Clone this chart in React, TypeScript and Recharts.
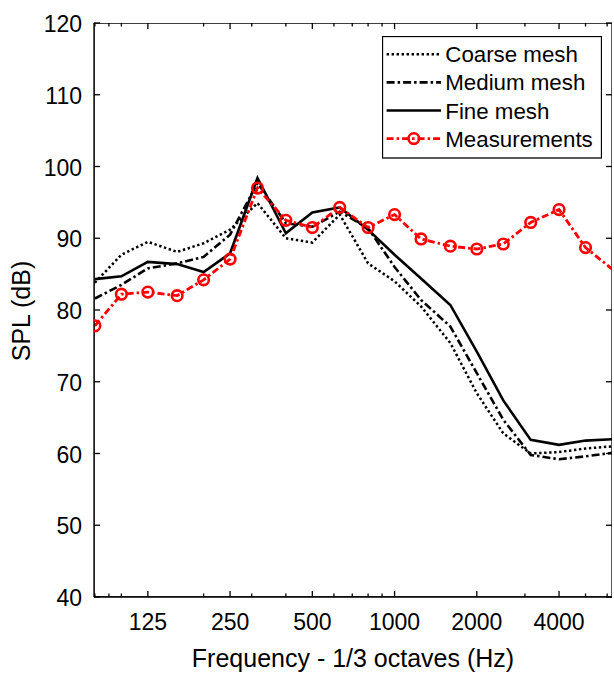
import { LineChart, Line, XAxis, YAxis, Legend, ReferenceArea } from 'recharts'

const FONT = '"Liberation Sans", Arial, sans-serif'
const RED = '#ff0000'

// plot box, in page pixels
const W = 614
const H = 674
const PLOT_LEFT = 94
const PLOT_TOP = 23
const PLOT_RIGHT = 612
const PLOT_BOTTOM = 597
const X_MIN = 79.4
const X_MAX = 6250

// 1/3 octave band centres (Hz)
const bands = [80, 100, 125, 160, 200, 250, 315, 400, 500, 630, 800, 1000, 1250, 1600, 2000, 2500, 3150, 4000, 5000, 6300]

// SPL (dB) per band
const coarseMesh = [83.8, 87.7, 89.5, 88.1, 89.3, 91.2, 94.9, 90.0, 89.4, 93.3, 86.5, 84.0, 80.5, 75.4, 68.4, 62.8, 60.0, 60.2, 60.7, 61.0]
const mediumMesh = [81.6, 83.5, 85.8, 86.5, 87.4, 90.5, 97.7, 92.1, 91.6, 93.7, 91.4, 86.0, 81.4, 77.7, 71.2, 64.7, 59.8, 59.2, 59.6, 60.1]
const fineMesh = [84.3, 84.7, 86.7, 86.4, 85.3, 87.9, 98.4, 90.7, 93.6, 94.3, 91.2, 87.7, 84.4, 80.7, 74.2, 67.4, 61.9, 61.2, 61.8, 62.0]
const measurements = [77.8, 82.2, 82.5, 82.0, 84.2, 87.1, 97.0, 92.5, 91.5, 94.3, 91.5, 93.3, 89.9, 88.9, 88.5, 89.2, 92.2, 94.0, 88.7, 85.6]

const majorTicks = [125, 250, 500, 1000, 2000, 4000]
const minorTicks = [80, 90, 100, 200, 300, 400, 600, 700, 800, 900, 3000, 5000, 6000]
const yTicks = [40, 50, 60, 70, 80, 90, 100, 110, 120]

const data = bands.map((f, i) => ({
  f,
  coarse: coarseMesh[i],
  medium: mediumMesh[i],
  fine: fineMesh[i],
  meas: measurements[i],
}))

const allXTicks = [...majorTicks, ...minorTicks].sort((a, b) => a - b)

const DOTTED = '2.4 2.6'
const DASH_DOT_BLACK = '8 3 2.5 3'
const DASH_DOT_RED = '7 3 2.5 3'

function XTick({ x, payload }: any) {
  const major = majorTicks.includes(payload.value)
  const len = major ? 6 : 3.5
  return (
    <g>
      <line x1={x} x2={x} y1={PLOT_BOTTOM} y2={PLOT_BOTTOM - len} stroke="#000" strokeWidth={1.3} />
      <line x1={x} x2={x} y1={PLOT_TOP} y2={PLOT_TOP + len} stroke="#000" strokeWidth={1.3} />
      {major && (
        <text x={x} y={630} textAnchor="middle" fontSize={23} fontFamily={FONT} fill="#000">
          {payload.value}
        </text>
      )}
    </g>
  )
}

function YTick({ y, payload }: any) {
  return (
    <g>
      <line x1={PLOT_LEFT} x2={PLOT_LEFT + 6} y1={y} y2={y} stroke="#000" strokeWidth={1.3} />
      <line x1={PLOT_RIGHT - 6} x2={PLOT_RIGHT} y1={y} y2={y} stroke="#000" strokeWidth={1.3} />
      <text x={82} y={y + 9} textAnchor="end" fontSize={23} fontFamily={FONT} fill="#000">
        {payload.value}
      </text>
    </g>
  )
}

// markers outside the x limits are not drawn (as in the original figure)
function MeasDot(p: any) {
  if (p.payload.f > X_MAX) return <g key={`md-${p.index}`} />
  return <circle key={`md-${p.index}`} cx={p.cx} cy={p.cy} r={5.3} fill="none" stroke={RED} strokeWidth={2.6} />
}

const legendRows = [
  { name: 'Coarse mesh', color: '#000', dash: DOTTED, width: 2.5 },
  { name: 'Medium mesh', color: '#000', dash: DASH_DOT_BLACK, width: 2.6 },
  { name: 'Fine mesh', color: '#000', dash: undefined, width: 2.6 },
  { name: 'Measurements', color: RED, dash: DASH_DOT_RED, width: 2.8 },
]

function LegendBox() {
  return (
    <svg width={220} height={123} style={{ display: 'block' }}>
      <rect x={0.5} y={0.5} width={219} height={121.5} fill="#fff" stroke="#000" strokeWidth={1.3} />
      {legendRows.map((r, i) => {
        const cy = 18.3 + i * 28.1
        return (
          <g key={r.name}>
            <line x1={4.6} x2={59} y1={cy} y2={cy} stroke={r.color} strokeWidth={r.width} strokeDasharray={r.dash} />
            {r.color === RED && <circle cx={31.8} cy={cy} r={5.3} fill="none" stroke={RED} strokeWidth={2.6} />}
            <text x={63.3} y={cy + 8} fontSize={22.3} fontFamily={FONT} fill="#000">{r.name}</text>
          </g>
        )
      })}
    </svg>
  )
}

export default function App() {
  return (
    <div style={{ position: 'absolute', left: 0, top: 0, width: W, height: H, background: '#fff' }}>
      <LineChart
        width={W}
        height={H}
        data={data}
        margin={{ top: PLOT_TOP, right: W - PLOT_RIGHT, bottom: 0, left: 0 }}
      >
        <XAxis
          dataKey="f"
          type="number"
          scale="log"
          domain={[X_MIN, X_MAX]}
          allowDataOverflow
          ticks={allXTicks}
          interval={0}
          tick={<XTick />}
          tickLine={false}
          axisLine={{ stroke: '#000', strokeWidth: 1.3 }}
          height={H - PLOT_BOTTOM}
          label={{
            content: () => (
              <text x={353} y={667} textAnchor="middle" fontSize={25} fontFamily={FONT} fill="#000">
                Frequency - 1/3 octaves (Hz)
              </text>
            ),
          }}
        />
        <YAxis
          type="number"
          domain={[40, 120]}
          ticks={yTicks}
          interval={0}
          tick={<YTick />}
          tickLine={false}
          axisLine={{ stroke: '#000', strokeWidth: 1.3 }}
          width={PLOT_LEFT}
          label={{
            content: () => (
              <text transform="translate(30,311) rotate(-90)" textAnchor="middle" fontSize={25} fontFamily={FONT} fill="#000">
                SPL (dB)
              </text>
            ),
          }}
        />
        <ReferenceArea x1={X_MIN} x2={X_MAX} y1={40} y2={120} fill="none" stroke="#000" strokeWidth={1.3} ifOverflow="hidden" />
        <Line dataKey="coarse" name="Coarse mesh" stroke="#000" strokeWidth={2.5} strokeDasharray={DOTTED} dot={false} isAnimationActive={false} />
        <Line dataKey="medium" name="Medium mesh" stroke="#000" strokeWidth={2.6} strokeDasharray={DASH_DOT_BLACK} dot={false} isAnimationActive={false} />
        <Line dataKey="fine" name="Fine mesh" stroke="#000" strokeWidth={2.6} dot={false} isAnimationActive={false} />
        <Line
          dataKey="meas"
          name="Measurements"
          stroke={RED}
          strokeWidth={2.8}
          strokeDasharray={DASH_DOT_RED}
          dot={MeasDot}
          isAnimationActive={false}
        />
        <Legend
          layout="vertical"
          align="center"
          verticalAlign="middle"
          content={() => <LegendBox />}
          wrapperStyle={{ left: 382, top: 36, width: 220, height: 123 }}
        />
      </LineChart>
    </div>
  )
}
